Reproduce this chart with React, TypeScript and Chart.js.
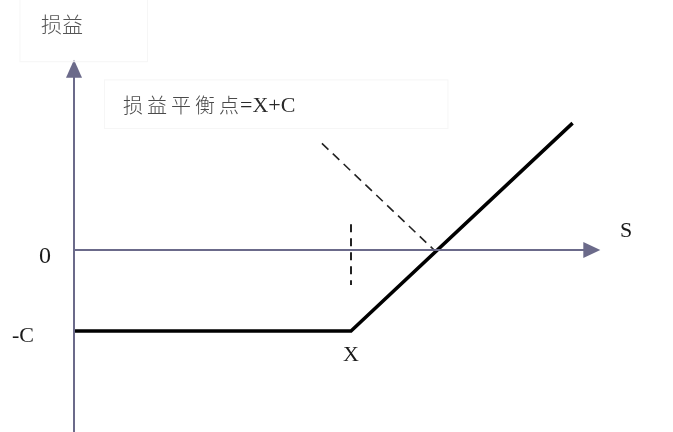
import React, { useEffect, useRef } from "react";
import { Chart, registerables } from "chart.js";
Chart.register(...registerables);

// Conceptual units: strike X = 10, premium C = 3
const payoffS = [0, 10, 18.0];
const payoffValues = [-3, -3, 4.7];
const strikeTickS = [10, 10];
const strikeTickV = [0.95, -1.3];
const breakevenGuideS = [8.95, 13];
const breakevenGuideV = [3.95, 0];
const yAxisS = [0, 0];
const yAxisV = [-7.5, 6.5];
const xAxisS = [0, 18.6];
const xAxisV = [0, 0];
const yArrowTip = [0, 7.05];
const xArrowTip = [19.0, 0];

const labelTexts = ["损益", "S", "0", "-C", "X"];
const labelS = [-0.43, 19.93, -1.05, -1.84, 10];
const labelV = [8.37, 0.7, -0.26, -3.19, -3.89];
const labelSizes = [21, 22, 24, 22, 22];

const axisColor = "#6b6a8a";

const zip = (xs: number[], ys: number[]) => xs.map((x, i) => ({ x, y: ys[i] }));

const overlay = {
  id: "overlay",
  afterDatasetsDraw(chart: any) {
    const { ctx, scales } = chart;
    const px = (s: number) => scales.x.getPixelForValue(s);
    const py = (v: number) => scales.y.getPixelForValue(v);
    ctx.save();
    // arrowheads
    ctx.fillStyle = axisColor;
    const yt = { x: px(yArrowTip[0]), y: py(yArrowTip[1]) };
    ctx.beginPath();
    ctx.moveTo(yt.x, yt.y);
    ctx.lineTo(yt.x - 8, yt.y + 18);
    ctx.lineTo(yt.x + 8, yt.y + 18);
    ctx.closePath();
    ctx.fill();
    const xt = { x: px(xArrowTip[0]), y: py(xArrowTip[1]) };
    ctx.beginPath();
    ctx.moveTo(xt.x, xt.y);
    ctx.lineTo(xt.x - 17, xt.y - 8);
    ctx.lineTo(xt.x - 17, xt.y + 8);
    ctx.closePath();
    ctx.fill();

    // faint label boxes
    ctx.strokeStyle = "#f6f6f6";
    ctx.lineWidth = 1;
    ctx.strokeRect(px(-1.95), py(9.3) - 2, px(2.65) - px(-1.95), py(6.9) - py(9.3));
    ctx.strokeRect(px(1.1), py(6.3), px(13.5) - px(1.1), py(4.5) - py(6.3));

    // labels
    ctx.textBaseline = "middle";
    ctx.textAlign = "center";
    labelTexts.forEach((t, i) => {
      const isCJK = /[\u4e00-\u9fff]/.test(t);
      ctx.fillStyle = isCJK ? "#555555" : "#1a1a1a";
      ctx.font = isCJK
        ? `300 ${labelSizes[i]}px 'Noto Sans CJK SC'`
        : `${labelSizes[i]}px 'Liberation Serif'`;
      ctx.fillText(t, px(labelS[i]), py(labelV[i]));
    });

    // annotation
    const ax = px(1.77);
    const ay = py(5.35);
    ctx.textAlign = "left";
    ctx.fillStyle = "#4a4a4a";
    ctx.font = "300 20px 'Noto Sans CJK SC'";
    (ctx as any).letterSpacing = "4px";
    const cjk = "损益平衡点";
    ctx.fillText(cjk, ax, ay);
    const w = ctx.measureText(cjk).width;
    (ctx as any).letterSpacing = "0px";
    ctx.font = "22px 'Liberation Serif'";
    ctx.fillStyle = "#2a2a2a";
    ctx.fillText("=X+C", ax + w - 3, ay + 1);
    ctx.restore();
  },
};

export default function App() {
  const ref = useRef<HTMLCanvasElement | null>(null);
  useEffect(() => {
    if (!ref.current) return;
    const chart = new Chart(ref.current, {
      type: "scatter",
      data: {
        datasets: [
          { data: zip(yAxisS, yAxisV), showLine: true, borderColor: axisColor, borderWidth: 2, pointRadius: 0 },
          { data: zip(xAxisS, xAxisV), showLine: true, borderColor: axisColor, borderWidth: 2, pointRadius: 0 },
          { data: zip(strikeTickS, strikeTickV), showLine: true, borderColor: "#222", borderWidth: 2, borderDash: [8, 6], pointRadius: 0 },
          { data: zip(breakevenGuideS, breakevenGuideV), showLine: true, borderColor: "#222", borderWidth: 1.6, borderDash: [9, 6], pointRadius: 0 },
          { data: zip(payoffS, payoffValues), showLine: true, borderColor: "#000", borderWidth: 3.5, pointRadius: 0, borderJoinStyle: "miter" },
        ],
      },
      options: {
        responsive: false,
        animation: false,
        layout: { padding: 0 },
        plugins: { legend: { display: false }, tooltip: { enabled: false } },
        events: [],
        scales: {
          x: { type: "linear", display: false, min: -74 / 27.7, max: (673 - 74) / 27.7 },
          y: { type: "linear", display: false, min: -182 / 27, max: 250 / 27 },
        },
      },
      plugins: [overlay],
    });
    return () => chart.destroy();
  }, []);
  return (
    <div style={{ position: "fixed", left: 0, top: 0, width: 673, height: 432, background: "#fff" }}>
      <canvas ref={ref} width={673} height={432} />
    </div>
  );
}
